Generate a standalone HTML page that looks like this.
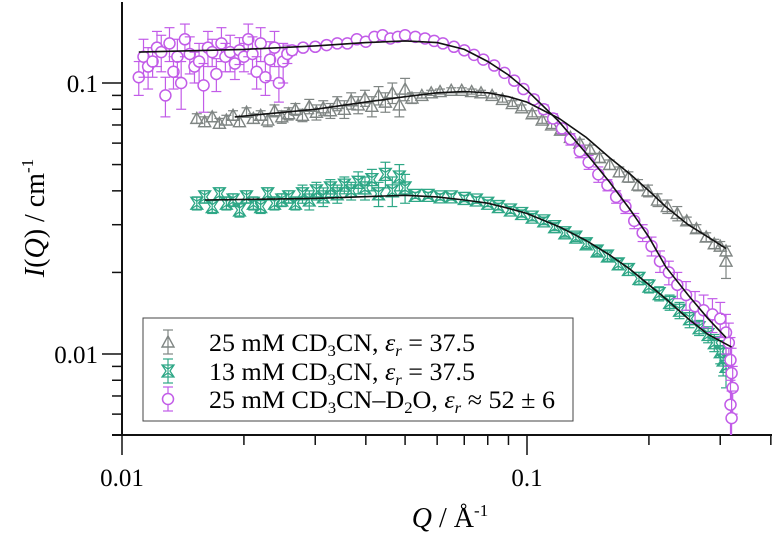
<!DOCTYPE html>
<html><head><meta charset="utf-8"><style>
html,body{margin:0;padding:0;background:#fff;}
svg{display:block;font-family:"Liberation Serif",serif;}
</style></head><body>
<svg id="chart" width="774" height="537" viewBox="0 0 774 537" xmlns="http://www.w3.org/2000/svg">
<g id="axes"></g>
<g id="marks"></g>
<g id="fits"></g>
<text transform="translate(44,218) rotate(-90)" text-anchor="middle" font-size="28"><tspan font-style="italic">I</tspan>(<tspan font-style="italic">Q</tspan>) / cm<tspan font-size="17" dy="-11">-1</tspan></text>
<text x="450" y="527" text-anchor="middle" font-size="28"><tspan font-style="italic">Q</tspan> / Å<tspan font-size="17" dy="-11">-1</tspan></text>
<g id="legend">
<rect x="143" y="318" width="430" height="103" fill="#fff" stroke="#444" stroke-width="1"/>
<text x="209" y="351" font-size="25" textLength="266" lengthAdjust="spacingAndGlyphs">25 mM CD<tspan font-size="16" dy="5">3</tspan><tspan dy="-5">CN, </tspan><tspan font-style="italic">ε</tspan><tspan font-style="italic" font-size="16" dy="5">r</tspan><tspan dy="-5"> = 37.5</tspan></text>
<text x="209" y="380" font-size="25" textLength="266" lengthAdjust="spacingAndGlyphs">13 mM CD<tspan font-size="16" dy="5">3</tspan><tspan dy="-5">CN, </tspan><tspan font-style="italic">ε</tspan><tspan font-style="italic" font-size="16" dy="5">r</tspan><tspan dy="-5"> = 37.5</tspan></text>
<text x="209" y="408" font-size="25" textLength="346" lengthAdjust="spacingAndGlyphs">25 mM CD<tspan font-size="16" dy="5">3</tspan><tspan dy="-5">CN–D</tspan><tspan font-size="16" dy="5">2</tspan><tspan dy="-5">O, </tspan><tspan font-style="italic">ε</tspan><tspan font-style="italic" font-size="16" dy="5">r</tspan><tspan dy="-5"> ≈ 52 ± 6</tspan></text>
</g>
</svg>
<script>
const xTickMajors = [0.01, 0.1];
const xTickLabels = ["0.01", "0.1"];
const xTickMinors = [0.02,0.03,0.04,0.05,0.06,0.07,0.08,0.09,0.2,0.3,0.4];
const yTickMajors = [0.01, 0.1];
const yTickLabels = ["0.01", "0.1"];
const yTickMinors = [0.005,0.006,0.007,0.008,0.009,0.02,0.03,0.04,0.05,0.06,0.07,0.08,0.09,0.2];

const grayQ = [0.0153,0.016,0.0167,0.0174,0.0181,0.0188,0.0195,0.0203,0.0211,0.022,0.0229,0.0238,0.0248,0.0258,0.0268,0.0279,0.029,0.0302,0.0314,0.0327,0.034,0.0354,0.0368,0.0383,0.0398,0.0414,0.043,0.0447,0.0465,0.0484,0.05,0.052,0.055,0.058,0.061,0.065,0.069,0.073,0.077,0.082,0.087,0.092,0.097,0.103,0.109,0.115,0.121,0.128,0.135,0.143,0.151,0.16,0.169,0.178,0.188,0.199,0.21,0.222,0.235,0.248,0.262,0.277,0.29,0.3,0.31,0.31];
const grayI = [0.074,0.072,0.075,0.071,0.073,0.076,0.072,0.078,0.074,0.076,0.073,0.079,0.075,0.077,0.08,0.076,0.082,0.078,0.081,0.079,0.084,0.08,0.086,0.083,0.088,0.082,0.09,0.085,0.092,0.083,0.095,0.088,0.09,0.092,0.093,0.094,0.094,0.093,0.092,0.09,0.087,0.084,0.081,0.077,0.073,0.07,0.067,0.063,0.06,0.057,0.053,0.05,0.047,0.045,0.042,0.04,0.037,0.035,0.033,0.031,0.029,0.027,0.0255,0.025,0.024,0.022];
const grayErr = [0.003,0.003,0.003,0.003,0.003,0.003,0.003,0.003,0.003,0.003,0.004,0.004,0.004,0.004,0.004,0.004,0.005,0.005,0.005,0.005,0.005,0.006,0.006,0.006,0.006,0.007,0.007,0.007,0.008,0.008,0.009,0.004,0.002,0.002,0.002,0.002,0.002,0.002,0.002,0.002,0.002,0.002,0.002,0.002,0.002,0.002,0.002,0.002,0.002,0.002,0.002,0.002,0.002,0.002,0.002,0.002,0.002,0.002,0.002,0.001,0.001,0.001,0.001,0.001,0.001,0.003];

const greenQ = [0.0153,0.016,0.0167,0.0174,0.0181,0.0188,0.0195,0.0203,0.0211,0.022,0.0229,0.0238,0.0248,0.0258,0.0268,0.0279,0.029,0.0302,0.0314,0.0327,0.034,0.0354,0.0368,0.0383,0.0398,0.0414,0.043,0.0447,0.0465,0.0484,0.05,0.053,0.057,0.061,0.065,0.07,0.075,0.08,0.085,0.091,0.097,0.103,0.11,0.117,0.124,0.132,0.14,0.149,0.158,0.168,0.178,0.189,0.2,0.212,0.225,0.238,0.252,0.266,0.28,0.29,0.3,0.305,0.31];
const greenI = [0.036,0.038,0.035,0.039,0.036,0.037,0.034,0.038,0.036,0.035,0.039,0.036,0.037,0.038,0.036,0.039,0.037,0.04,0.038,0.041,0.039,0.042,0.04,0.043,0.041,0.044,0.039,0.046,0.04,0.045,0.041,0.0385,0.0385,0.038,0.038,0.0375,0.037,0.036,0.035,0.034,0.033,0.032,0.031,0.0295,0.028,0.027,0.0255,0.024,0.023,0.0215,0.0205,0.019,0.0178,0.0167,0.0155,0.0145,0.0135,0.0125,0.0118,0.011,0.0102,0.0095,0.009];
const greenErr = [0.002,0.002,0.002,0.002,0.002,0.002,0.002,0.002,0.002,0.002,0.002,0.002,0.002,0.002,0.002,0.003,0.003,0.003,0.003,0.003,0.003,0.003,0.003,0.004,0.004,0.004,0.004,0.005,0.005,0.005,0.005,0.001,0.001,0.001,0.001,0.001,0.001,0.001,0.001,0.001,0.001,0.001,0.001,0.001,0.001,0.001,0.001,0.001,0.001,0.001,0.001,0.001,0.001,0.001,0.001,0.001,0.001,0.0008,0.0008,0.0008,0.001,0.0012,0.0015];

const purpleQ = [0.011,0.0113,0.0116,0.0119,0.0122,0.0125,0.0128,0.0131,0.0134,0.0137,0.014,0.0143,0.0147,0.0151,0.0155,0.0159,0.0163,0.0167,0.0171,0.0176,0.018,0.0185,0.019,0.0195,0.02,0.0205,0.021,0.0215,0.022,0.0226,0.0232,0.0238,0.0244,0.025,0.0256,0.0263,0.028,0.03,0.032,0.034,0.036,0.038,0.04,0.042,0.044,0.046,0.048,0.05,0.053,0.056,0.059,0.062,0.066,0.07,0.074,0.078,0.083,0.088,0.093,0.098,0.104,0.11,0.116,0.122,0.128,0.135,0.142,0.15,0.158,0.166,0.175,0.184,0.193,0.203,0.213,0.224,0.235,0.247,0.26,0.273,0.287,0.3,0.31,0.315,0.318,0.32,0.322,0.318,0.32];
const purpleI = [0.105,0.125,0.115,0.12,0.135,0.13,0.09,0.14,0.11,0.125,0.1,0.145,0.128,0.115,0.12,0.098,0.135,0.13,0.108,0.14,0.125,0.13,0.118,0.132,0.125,0.145,0.128,0.11,0.14,0.105,0.122,0.135,0.1,0.12,0.128,0.132,0.135,0.136,0.138,0.14,0.14,0.145,0.142,0.148,0.15,0.146,0.148,0.15,0.148,0.146,0.143,0.14,0.136,0.132,0.127,0.122,0.116,0.109,0.102,0.095,0.087,0.08,0.074,0.068,0.062,0.056,0.051,0.046,0.042,0.038,0.035,0.031,0.028,0.025,0.022,0.02,0.018,0.0165,0.015,0.0145,0.014,0.0135,0.012,0.011,0.0095,0.0085,0.0075,0.0065,0.0058];
const purpleErr = [0.015,0.02,0.02,0.015,0.02,0.02,0.015,0.02,0.015,0.02,0.02,0.02,0.02,0.015,0.02,0.02,0.02,0.015,0.015,0.02,0.015,0.02,0.015,0.015,0.015,0.02,0.02,0.015,0.02,0.015,0.02,0.02,0.015,0.02,0.01,0.005,0.004,0.004,0.004,0.004,0.004,0.004,0.004,0.004,0.004,0.004,0.004,0.004,0.003,0.003,0.003,0.003,0.003,0.003,0.003,0.003,0.003,0.003,0.003,0.003,0.003,0.003,0.003,0.003,0.003,0.003,0.003,0.003,0.002,0.002,0.002,0.002,0.002,0.002,0.002,0.002,0.002,0.002,0.002,0.002,0.002,0.002,0.002,0.002,0.002,0.002,0.0015,0.0015,0.0015];

const fitPurpleQ = [0.011,0.02,0.03,0.04,0.05,0.06,0.07,0.08,0.09,0.1,0.12,0.14,0.16,0.18,0.2,0.22,0.25,0.28,0.31];
const fitPurpleI = [0.13,0.133,0.137,0.141,0.143,0.141,0.133,0.12,0.107,0.094,0.072,0.055,0.043,0.034,0.027,0.021,0.0165,0.0135,0.0115];
const fitGrayQ = [0.019,0.03,0.04,0.05,0.06,0.07,0.08,0.09,0.1,0.12,0.14,0.16,0.18,0.2,0.22,0.25,0.28,0.31];
const fitGrayI = [0.075,0.08,0.085,0.089,0.092,0.093,0.092,0.089,0.085,0.074,0.063,0.053,0.046,0.04,0.035,0.03,0.027,0.0245];
const fitGreenQ = [0.016,0.03,0.05,0.06,0.07,0.08,0.09,0.1,0.12,0.14,0.16,0.18,0.2,0.22,0.25,0.28,0.32];
const fitGreenI = [0.037,0.0375,0.0385,0.038,0.037,0.036,0.0345,0.033,0.0295,0.0262,0.0232,0.0205,0.018,0.016,0.0135,0.0118,0.0106];

const NS = "http://www.w3.org/2000/svg";
const X0 = 122, XDEC = 405, Y0 = 83, YDEC = 271, AXY = 435, AXX = 122;
function xs(q){ return X0 + XDEC * Math.log10(q / 0.01); }
function ys(v){ return Y0 - YDEC * Math.log10(v / 0.1); }
function mk(tag, attrs, parent){
  const e = document.createElementNS(NS, tag);
  for (const k in attrs) e.setAttribute(k, attrs[k]);
  parent.appendChild(e);
  return e;
}
const axes = document.getElementById('axes');
const marks = document.getElementById('marks');
const fits = document.getElementById('fits');

const ya = mk('line', {x1: AXX, y1: 2, x2: AXX, y2: AXY, stroke: '#111', 'stroke-width': 2}, axes);


const xa = mk('line', {x1: 112, y1: AXY, x2: 772, y2: AXY, stroke: '#111', 'stroke-width': 2}, axes);



xTickMajors.forEach((v, i) => {
  const x = xs(v);
  const t = mk('line', {x1: x, y1: AXY, x2: x, y2: AXY + 20, stroke: '#111', 'stroke-width': 1.5}, axes);
  
  
  const l = mk('text', {x: x, y: 486, 'text-anchor': 'middle', 'font-size': 25}, axes);
  l.textContent = xTickLabels[i];
  
  
});
xTickMinors.forEach(v => {
  const x = xs(v);
  const t = mk('line', {x1: x, y1: AXY, x2: x, y2: AXY + 10, stroke: '#111', 'stroke-width': 1.5}, axes);
  
  
});
yTickMajors.forEach((v, i) => {
  const y = ys(v);
  const t = mk('line', {x1: AXX - 20, y1: y, x2: AXX, y2: y, stroke: '#111', 'stroke-width': 1.5}, axes);
  
  
  const l = mk('text', {x: AXX - 24, y: y + 9, 'text-anchor': 'end', 'font-size': 25}, axes);
  l.textContent = yTickLabels[i];
  
  
});
yTickMinors.forEach(v => {
  const y = ys(v);
  if (y < 2 || y > AXY) return;
  const t = mk('line', {x1: AXX - 10, y1: y, x2: AXX, y2: y, stroke: '#111', 'stroke-width': 1.5}, axes);
  
  
});

function errbar(g, x, v, e, color){
  const yt = ys(v + e), yb = ys(Math.max(v - e, 1e-4));
  mk('line', {x1: x, y1: yt, x2: x, y2: Math.min(yb, AXY), stroke: color, 'stroke-width': 1.2}, g);
  mk('line', {x1: x - 5, y1: yt, x2: x + 5, y2: yt, stroke: color, 'stroke-width': 1.2}, g);
  if (yb < AXY) mk('line', {x1: x - 5, y1: yb, x2: x + 5, y2: yb, stroke: color, 'stroke-width': 1.2}, g);
}
function triangle(g, x, y, color){
  mk('path', {d: `M${x},${y-6} L${x+6},${y+5} L${x-6},${y+5} Z`, fill: 'none', stroke: color, 'stroke-width': 1.4}, g);
}
function star(g, x, y, color){
  mk('path', {d: `M${x-6},${y-6} L${x+6},${y-6} L${x+2},${y} L${x+6},${y+6} L${x-6},${y+6} L${x-2},${y} Z M${x-6},${y-6} L${x},${y-2} L${x+6},${y-6} M${x-6},${y+6} L${x},${y+2} L${x+6},${y+6}`, fill: 'none', stroke: color, 'stroke-width': 1.3}, g);
}
function circle(g, x, y, color){
  mk('circle', {cx: x, cy: y, r: 5.5, fill: '#fff', stroke: color, 'stroke-width': 1.5}, g);
}
function series(name, qArr, iArr, eArr, color, shape){
  const g = mk('g', {}, marks);
  
  
  qArr.forEach((q, i) => {
    const x = xs(q), y = ys(iArr[i]);
    errbar(g, x, iArr[i], eArr[i], color);
    if (y < AXY) shape(g, x, y, color);
  });
}
series('series-25mM-cd3cn', grayQ, grayI, grayErr, '#7f8583', triangle);
series('series-13mM-cd3cn', greenQ, greenI, greenErr, '#2ea786', star);
series('series-25mM-d2o', purpleQ, purpleI, purpleErr, '#c25ce8', circle);

function fitLine(name, qArr, iArr){
  const d = qArr.map((q, i) => (i ? 'L' : 'M') + xs(q).toFixed(1) + ',' + ys(iArr[i]).toFixed(1)).join(' ');
  const p = mk('path', {d: d, fill: 'none', stroke: '#111', 'stroke-width': 1.6}, fits);
  
  
}
fitLine('fit-line-d2o', fitPurpleQ, fitPurpleI);
fitLine('fit-line-25mM', fitGrayQ, fitGrayI);
fitLine('fit-line-13mM', fitGreenQ, fitGreenI);

const lg = document.getElementById('legend');
const sy = [342, 371, 399];
const lcol = ['#7f8583', '#2ea786', '#c25ce8'];
const lshape = [triangle, star, circle];
const lnames = ['legend-symbol-25mM', 'legend-symbol-13mM', 'legend-symbol-d2o'];
sy.forEach((y, i) => {
  const g = mk('g', {}, lg);
  
  
  mk('line', {x1: 168, y1: y - 12, x2: 168, y2: y + 12, stroke: lcol[i], 'stroke-width': 1.2}, g);
  mk('line', {x1: 163, y1: y - 12, x2: 173, y2: y - 12, stroke: lcol[i], 'stroke-width': 1.2}, g);
  mk('line', {x1: 163, y1: y + 12, x2: 173, y2: y + 12, stroke: lcol[i], 'stroke-width': 1.2}, g);
  lshape[i](g, 168, y, lcol[i]);
});
</script>
</body></html>
